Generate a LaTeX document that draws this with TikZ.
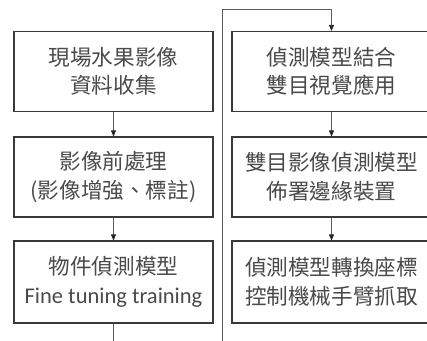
\documentclass[tikz,border=0pt]{standalone}
\usepackage{fontspec}
\newfontfamily\cjk{Noto Sans CJK TC}
\newfontfamily\lat{Carlito}
\usetikzlibrary{arrows.meta}
\definecolor{txt}{HTML}{4A4A4A}
\definecolor{bord}{HTML}{3A3A3A}
\definecolor{conn}{HTML}{5A5A5A}
\tikzset{
  stepbox/.style={draw=bord, line width=1.1pt, minimum width=199pt, minimum height=80pt,
    inner sep=0pt, align=center, text=txt, font=\cjk\fontsize{21.6}{28.5}\selectfont},
  conn/.style={draw=conn, line width=0.7pt},
  arr/.style={conn, -{Triangle[width=5pt,length=6pt,fill=black!85,color=black!85]}}
}
\begin{document}
\begin{tikzpicture}[x=1pt,y=1pt]
\clip (0,0) rectangle (427,-340);
\fill[white] (0,0) rectangle (427,-340);
\node[stepbox] (L1) at (113.5,-71.5) {現場水果影像\\資料收集};
\node[stepbox] (L2) at (113.5,-177) {影像前處理\\(影像增強、標註)};
\node[stepbox, minimum height=82pt] (L3) at (113.5,-282) {物件偵測模型\\{\lat\fontsize{22.5}{28.5}\selectfont Fine tuning training}};
\node[stepbox] (R1) at (331.5,-71.5) {偵測模型結合\\雙目視覺應用};
\node[stepbox] (R2) at (331.5,-177) {雙目影像偵測模型\\佈署邊緣裝置};
\node[stepbox, minimum height=82pt] (R3) at (331.5,-282) {偵測模型轉換座標\\控制機械手臂抓取};
\coordinate (Lend) at (113.5,-345);
\coordinate (Sbot) at (222.7,-345);
\coordinate (Stop) at (222.7,-9);
\coordinate (Rtop) at (331.5,-9);
\draw[arr] (L1) -- (L2);
\draw[arr] (L2) -- (L3);
\draw[conn] (L3) -- (Lend);
\draw[arr] (Sbot) -- (Stop) -- (Rtop) -- (R1);
\draw[arr] (R1) -- (R2);
\draw[arr] (R2) -- (R3);
\end{tikzpicture}
\end{document}
